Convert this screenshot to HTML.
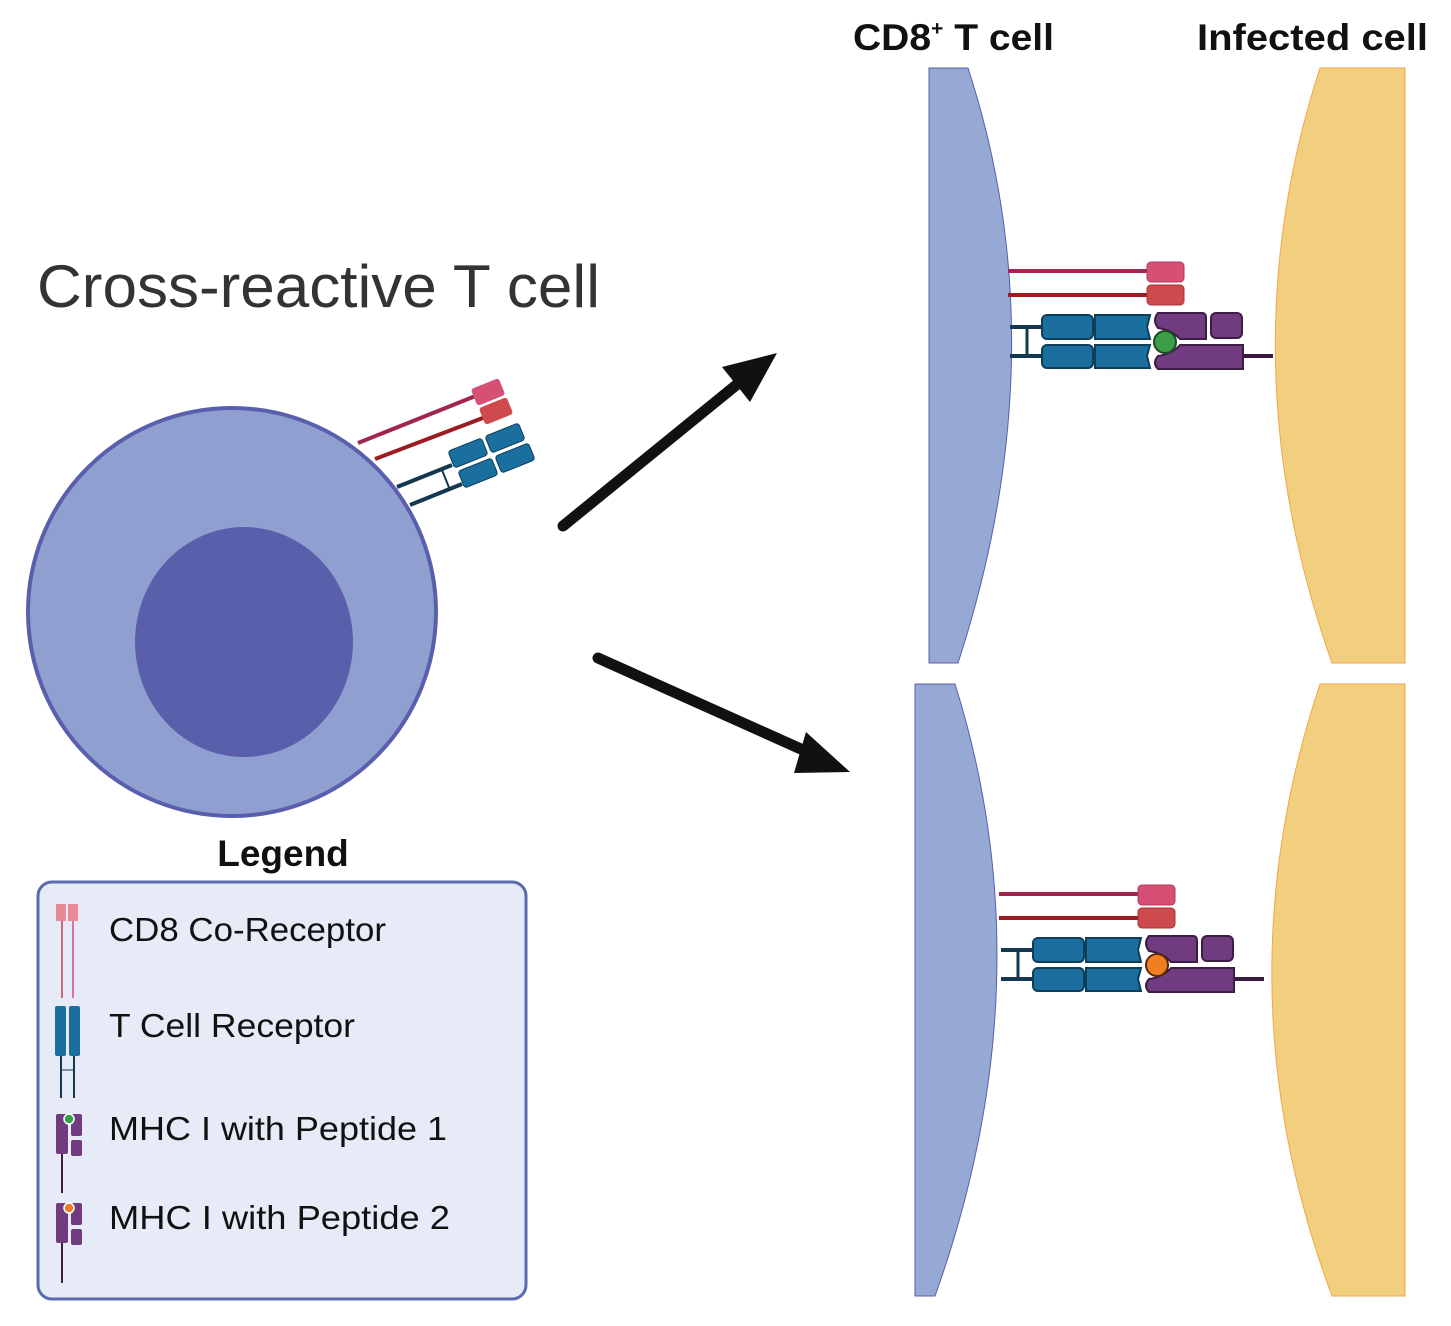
<!DOCTYPE html>
<html><head><meta charset="utf-8"><style>
html,body{margin:0;padding:0;background:#fff;}
svg{display:block;}
text{font-family:"Liberation Sans",sans-serif;}
</style></head><body>
<svg width="1451" height="1326" viewBox="0 0 1451 1326" xmlns="http://www.w3.org/2000/svg">
<defs>
<g id="mol">
  <line x1="1008" y1="271" x2="1150" y2="271" stroke="#a0264f" stroke-width="4"/>
  <line x1="1008" y1="295" x2="1150" y2="295" stroke="#9c1c22" stroke-width="4"/>
  <rect x="1147" y="262" width="37" height="20" rx="4" fill="#d65076" stroke="#b03a5e" stroke-width="1"/>
  <rect x="1147" y="285" width="37" height="20" rx="4" fill="#cf4a4c" stroke="#a83336" stroke-width="1"/>
  <line x1="1010" y1="327" x2="1045" y2="327" stroke="#12394f" stroke-width="4"/>
  <line x1="1010" y1="356" x2="1045" y2="356" stroke="#12394f" stroke-width="4"/>
  <line x1="1027" y1="327" x2="1027" y2="356" stroke="#12394f" stroke-width="3"/>
  <g fill="#1b6f9e" stroke="#0f3e58" stroke-width="2">
    <rect x="1042" y="315" width="51" height="24" rx="5"/>
    <path d="M1095 315 H1150 L1147 327 L1150 339 H1095 Z"/>
    <rect x="1042" y="345" width="51" height="23" rx="5"/>
    <path d="M1095 345 H1150 L1147 356 L1150 368 H1095 Z"/>
  </g>
  <line x1="1240" y1="356" x2="1273" y2="356" stroke="#3b1a40" stroke-width="4"/>
  <g fill="#713c7f" stroke="#3d1c45" stroke-width="2">
    <path d="M1158 313 H1202 Q1206 313 1206 318 V339 H1180 Q1172 330 1158 328 Q1152 320 1158 313 Z"/>
    <rect x="1211" y="313" width="31" height="25" rx="5"/>
    <path d="M1158 369 H1243 V345 H1180 Q1172 354 1158 356 Q1152 363 1158 369 Z"/>
  </g>
</g>
</defs>

<!-- top synapse -->
<path d="M929 68 H968 Q1060 350 958 663 H929 Z" fill="#95a9d4" stroke="#5a5fad" stroke-width="1"/>
<path d="M1405 68 H1320 Q1225 360 1332 663 H1405 Z" fill="#f1cf7f" stroke="#f3a64a" stroke-width="1"/>
<use href="#mol"/>
<circle cx="1165" cy="342" r="11" fill="#3a9f48" stroke="#1d4a22" stroke-width="2"/>

<!-- bottom synapse -->
<path d="M915 684 H955 Q1048 980 935 1296 H915 Z" fill="#95a9d4" stroke="#5a5fad" stroke-width="1"/>
<path d="M1405 684 H1320 Q1218 990 1332 1296 H1405 Z" fill="#f1cf7f" stroke="#f3a64a" stroke-width="1"/>
<g transform="translate(-9,623)"><use href="#mol"/></g>
<circle cx="1157" cy="965" r="11" fill="#ef7f22" stroke="#5a2a08" stroke-width="2"/>

<text x="853" y="50" font-size="37" font-weight="bold" fill="#111" textLength="201" lengthAdjust="spacingAndGlyphs">CD8<tspan font-size="20" dy="-15">+</tspan><tspan dy="15"> T cell</tspan></text>
<text x="1197" y="50" font-size="37" font-weight="bold" fill="#111" textLength="231" lengthAdjust="spacingAndGlyphs">Infected cell</text>

<!-- arrows -->
<line x1="563" y1="526" x2="740" y2="382" stroke="#111" stroke-width="11" stroke-linecap="round"/>
<polygon points="777,353 722,367 750,402" fill="#111"/>
<line x1="598" y1="658" x2="812" y2="754" stroke="#111" stroke-width="11" stroke-linecap="round"/>
<polygon points="850,772 806,732 794,773" fill="#111"/>

<text x="37" y="307" font-size="60" fill="#333" textLength="563" lengthAdjust="spacingAndGlyphs">Cross-reactive T cell</text>

<!-- receptors on left cell -->
<line x1="358" y1="443" x2="478" y2="395" stroke="#a0264f" stroke-width="4"/>
<line x1="375" y1="459" x2="488" y2="416" stroke="#9c1c22" stroke-width="4"/>
<line x1="397" y1="487" x2="452" y2="465" stroke="#12394f" stroke-width="4"/>
<line x1="410" y1="505" x2="462" y2="484" stroke="#12394f" stroke-width="4"/>
<line x1="442" y1="470" x2="450" y2="490" stroke="#12394f" stroke-width="2"/>
<g transform="translate(488,392) rotate(-22)"><rect x="-15" y="-9" width="30" height="18" rx="3" fill="#d65076"/></g>
<g transform="translate(496,411) rotate(-22)"><rect x="-15" y="-9" width="30" height="18" rx="3" fill="#cf4a4c"/></g>
<g fill="#1b6f9e" stroke="#0f3e58" stroke-width="1">
<g transform="translate(468,453) rotate(-22)"><rect x="-18" y="-9" width="36" height="18" rx="3"/></g>
<g transform="translate(505,438) rotate(-22)"><rect x="-18" y="-9" width="36" height="18" rx="3"/></g>
<g transform="translate(478,473) rotate(-22)"><rect x="-18" y="-9" width="36" height="18" rx="3"/></g>
<g transform="translate(515,458) rotate(-22)"><rect x="-18" y="-9" width="36" height="18" rx="3"/></g>
</g>

<!-- left cell -->
<circle cx="232" cy="612" r="204" fill="#8fa0d0" stroke="#5a5fad" stroke-width="4"/>
<ellipse cx="244" cy="642" rx="109" ry="115" fill="#5a5fab"/>

<!-- legend -->
<text x="283" y="866" font-size="37" font-weight="bold" fill="#111" text-anchor="middle">Legend</text>
<rect x="38" y="882" width="488" height="417" rx="14" fill="#e7ebf7" stroke="#5a6ab0" stroke-width="3"/>
<g font-size="33" fill="#111">
<text x="109" y="941" textLength="277" lengthAdjust="spacingAndGlyphs">CD8 Co-Receptor</text>
<text x="109" y="1037" textLength="246" lengthAdjust="spacingAndGlyphs">T Cell Receptor</text>
<text x="109" y="1140" textLength="338" lengthAdjust="spacingAndGlyphs">MHC I with Peptide 1</text>
<text x="109" y="1229" textLength="341" lengthAdjust="spacingAndGlyphs">MHC I with Peptide 2</text>
</g>
<!-- legend icons -->
<rect x="56" y="904" width="10" height="17" fill="#e88a96"/>
<rect x="68" y="904" width="10" height="17" fill="#e88a96"/>
<line x1="62" y1="921" x2="62" y2="998" stroke="#c63a50" stroke-width="1.5"/>
<line x1="73" y1="921" x2="73" y2="998" stroke="#d0507a" stroke-width="1.5"/>
<rect x="55" y="1006" width="11" height="50" rx="2" fill="#1b6f9e"/>
<rect x="69" y="1006" width="11" height="50" rx="2" fill="#1b6f9e"/>
<line x1="61" y1="1056" x2="61" y2="1098" stroke="#12394f" stroke-width="2"/>
<line x1="74" y1="1056" x2="74" y2="1098" stroke="#12394f" stroke-width="2"/>
<line x1="61" y1="1070" x2="74" y2="1070" stroke="#12394f" stroke-width="1"/>
<g fill="#713c7f">
<rect x="56" y="1114" width="12" height="40" rx="2"/><rect x="71" y="1114" width="11" height="22" rx="2"/><rect x="71" y="1140" width="11" height="16" rx="2"/>
<rect x="56" y="1203" width="12" height="40" rx="2"/><rect x="71" y="1203" width="11" height="22" rx="2"/><rect x="71" y="1229" width="11" height="16" rx="2"/>
</g>
<line x1="62" y1="1154" x2="62" y2="1193" stroke="#3d1c45" stroke-width="2"/>
<line x1="62" y1="1243" x2="62" y2="1283" stroke="#3d1c45" stroke-width="2"/>
<circle cx="69" cy="1119" r="5" fill="#3a9f48" stroke="#fff" stroke-width="1.5"/>
<circle cx="69" cy="1208" r="5" fill="#ef7f22" stroke="#fff" stroke-width="1.5"/>
</svg>
</body></html>
